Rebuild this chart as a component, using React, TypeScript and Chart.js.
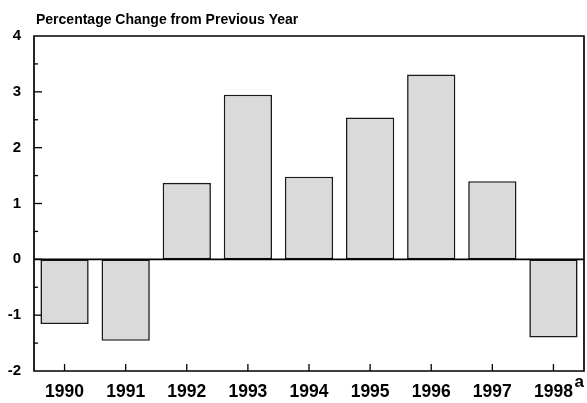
import React, { useEffect, useRef } from "react";
import { Chart, registerables } from "chart.js";

Chart.register(...registerables);

const categories = ["1990", "1991", "1992", "1993", "1994", "1995", "1996", "1997", "1998"];
const values = [-1.16, -1.46, 1.37, 2.95, 1.48, 2.54, 3.31, 1.4, -1.4];
const yMin = -2;
const yMax = 4;
const titleText = "Percentage Change from Previous Year";
const footnote = "a";

const FONT = '"Liberation Sans", Arial, Helvetica, sans-serif';

const framePlugin = {
  id: "framePlugin",
  afterDatasetsDraw(chart: any) {
    const { ctx, chartArea, scales } = chart;
    const x = scales.x;
    const y = scales.y;
    const { left, right, top, bottom } = chartArea;
    ctx.save();
    ctx.strokeStyle = "#000";
    ctx.lineWidth = 1.7;
    // zero line
    const y0 = y.getPixelForValue(0);
    ctx.beginPath();
    ctx.moveTo(left, y0);
    ctx.lineTo(right, y0);
    ctx.stroke();
    // frame
    ctx.beginPath();
    ctx.rect(left, top, right - left, bottom - top);
    ctx.stroke();
    // y ticks inside (major + minor)
    ctx.lineWidth = 1.3;
    for (let v = yMin; v <= yMax + 1e-9; v += 0.5) {
      const py = y.getPixelForValue(v);
      const isMajor = Math.abs(v - Math.round(v)) < 1e-9;
      if (v === yMin || v === yMax) continue;
      ctx.beginPath();
      ctx.moveTo(left, py);
      ctx.lineTo(left + (isMajor ? 8 : 4), py);
      ctx.stroke();
    }
    // x ticks inside
    categories.forEach((_, i) => {
      const px = x.getPixelForValue(i);
      ctx.beginPath();
      ctx.moveTo(px, bottom);
      ctx.lineTo(px, bottom - 7);
      ctx.stroke();
    });
    // title
    ctx.fillStyle = "#000";
    ctx.font = `bold 14px ${FONT}`;
    ctx.textAlign = "left";
    ctx.textBaseline = "alphabetic";
    ctx.fillText(titleText, 36, 23.5);
    // footnote
    ctx.font = `bold 17px ${FONT}`;
    const lastX = x.getPixelForValue(categories.length - 1);
    ctx.fillText(footnote, lastX + 21, 387);
    ctx.restore();
  },
};

export default function App() {
  const ref = useRef<HTMLCanvasElement>(null);
  useEffect(() => {
    if (!ref.current) return;
    const chart = new Chart(ref.current, {
      type: "bar",
      data: {
        labels: categories,
        datasets: [
          {
            data: values,
            backgroundColor: "#dadada",
            borderColor: "#1a1a1a",
            borderWidth: 1.6,
            borderSkipped: false,
            barPercentage: 0.79,
            categoryPercentage: 1,
          },
        ],
      },
      options: {
        responsive: false,
        animation: false,
        layout: { padding: { top: 36, right: 3, left: 0, bottom: 0 } },
        plugins: {
          legend: { display: false },
          title: { display: false },
          tooltip: { enabled: false },
        },
        scales: {
          x: {
            type: "category",
            grid: { display: false, drawTicks: false },
            border: { display: false },
            ticks: {
              color: "#000",
              font: { family: FONT, weight: "bold", size: 17.5 },
              padding: 11,
              maxRotation: 0,
              autoSkip: false,
            },
            afterFit: (s: any) => {
              s.height = 32;
            },
          },
          y: {
            min: yMin,
            max: yMax,
            grid: { display: false, drawTicks: false },
            border: { display: false },
            ticks: {
              stepSize: 1,
              color: "#000",
              font: { family: FONT, weight: "bold", size: 15 },
              padding: 13,
            },
            afterFit: (s: any) => {
              s.width = 34;
            },
          },
        },
      },
      plugins: [framePlugin],
    });
    return () => chart.destroy();
  }, []);
  return (
    <div style={{ position: "absolute", left: 0, top: 0, width: 587, height: 403, background: "#fff" }}>
      <canvas ref={ref} width={587} height={403} />
    </div>
  );
}
